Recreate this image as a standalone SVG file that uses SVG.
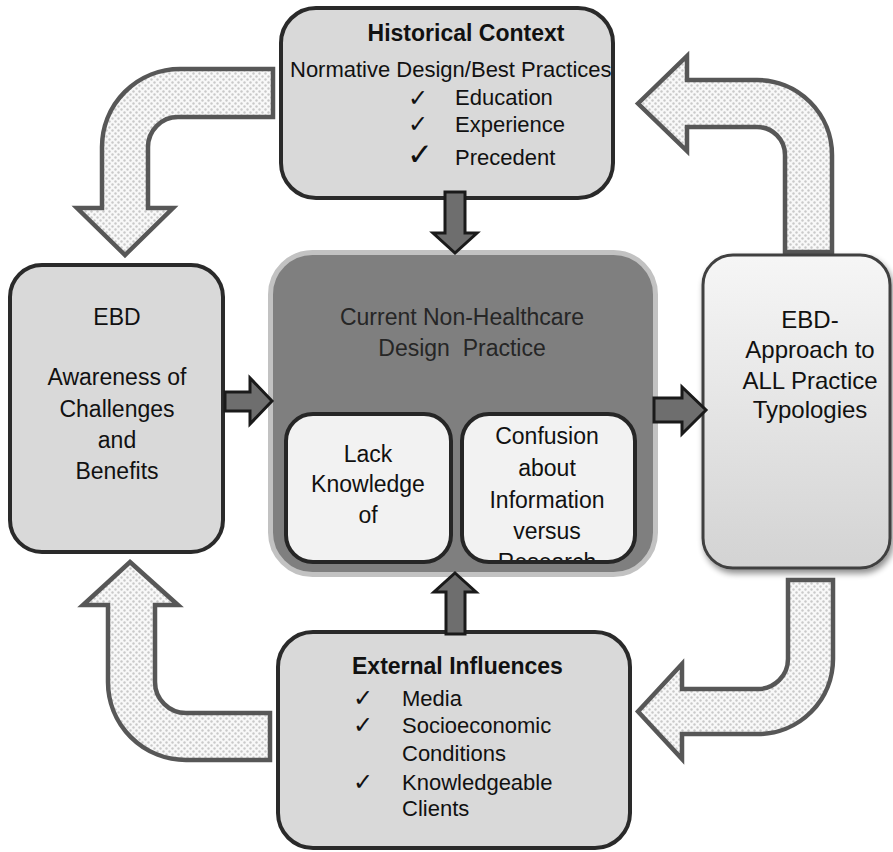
<svg xmlns="http://www.w3.org/2000/svg" width="893" height="852" viewBox="0 0 893 852">
<defs>
<pattern id="dots" width="6" height="6" patternUnits="userSpaceOnUse">
<rect width="6" height="6" fill="#f8f8f8"/>
<circle cx="1.5" cy="1.5" r="1.2" fill="#c9c9c9"/>
<circle cx="4.5" cy="4.5" r="1.2" fill="#c9c9c9"/>
</pattern>
<linearGradient id="rg" x1="0" y1="0" x2="0" y2="1">
<stop offset="0" stop-color="#f6f6f6"/>
<stop offset="1" stop-color="#d3d3d3"/>
</linearGradient>
<filter id="sh" x="-20%" y="-20%" width="140%" height="140%">
<feGaussianBlur in="SourceAlpha" stdDeviation="3"/>
<feOffset dx="2" dy="4" result="b"/>
<feComponentTransfer><feFuncA type="linear" slope="0.45"/></feComponentTransfer>
<feMerge><feMergeNode/><feMergeNode in="SourceGraphic"/></feMerge>
</filter>
<clipPath id="clipR"><rect x="464" y="416" width="169" height="144" rx="25"/></clipPath>
<style>
.t{font-family:"Liberation Sans",Arial,sans-serif;fill:#111;}
.b{font-weight:bold;}
.ck{font-family:"DejaVu Sans",sans-serif;fill:#111;}
.box{fill:#d9d9d9;stroke:#2a2a2a;stroke-width:4;}
.inner{fill:#f2f2f2;stroke:#262626;stroke-width:4;}
.curve{fill:url(#dots);stroke:#575757;stroke-width:4.5;stroke-linejoin:miter;}
.dark{fill:#6e6e6e;stroke:#1a1a1a;stroke-width:3;stroke-linejoin:miter;}
</style>
</defs>

<g id="connectors">
<path class="curve" d="M273,69 L180,69 A78,78 0 0 0 102,147 L102,208 L77,208 L125,255 L173,208 L148,208 L148,147 A30,30 0 0 1 178,117 L273,117 Z"/>
<path class="curve" d="M638,103.5 L687,56 L687,80 L757,80 A75,75 0 0 1 832,155 L832,252 L785,252 L785,155 A28,28 0 0 0 757,127 L687,127 L687,151 Z"/>
<path class="curve" d="M788,580 L833,580 L833,659 A75,75 0 0 1 758,734 L682,734 L682,759 L638,711.5 L682,664 L682,689 L758,689 A30,30 0 0 0 788,659 Z"/>
<path class="curve" d="M130,562 L178,605 L155,605 L155,682 A31,31 0 0 0 186,713 L270,713 L270,760 L186,760 A78,78 0 0 1 108,682 L108,605 L83,605 Z"/>
</g>

<g id="historical">
<rect class="box" x="281" y="8" width="332" height="190" rx="35"/>
<text class="t b" x="466" y="41" font-size="23" text-anchor="middle">Historical Context</text>
<text class="t" x="290" y="77" font-size="22">Normative Design/Best Practices</text>
<text class="ck" x="408" y="106" font-size="24">✓</text>
<text class="t" x="455" y="105" font-size="22">Education</text>
<text class="ck" x="408" y="132" font-size="24">✓</text>
<text class="t" x="455" y="132" font-size="22">Experience</text>
<text class="ck" x="407" y="165" font-size="31">✓</text>
<text class="t" x="455" y="165" font-size="22">Precedent</text>
</g>

<g id="ebd-awareness">
<rect class="box" x="10" y="265" width="213" height="287" rx="32"/>
<text class="t" x="117" y="325" font-size="23" text-anchor="middle">EBD</text>
<text class="t" x="117" y="385" font-size="23" text-anchor="middle">Awareness of</text>
<text class="t" x="117" y="417" font-size="23" text-anchor="middle">Challenges</text>
<text class="t" x="117" y="448" font-size="23" text-anchor="middle">and</text>
<text class="t" x="117" y="479" font-size="23" text-anchor="middle">Benefits</text>
</g>

<g id="current-practice">
<rect x="270.5" y="252.5" width="385" height="322" rx="42" fill="#7f7f7f" stroke="#c2c2c2" stroke-width="5"/>
<text x="462" y="325" font-size="23" text-anchor="middle" style="font-family:'Liberation Sans',Arial,sans-serif;fill:#262626">Current Non-Healthcare</text>
<text x="462" y="356" font-size="23" text-anchor="middle" style="font-family:'Liberation Sans',Arial,sans-serif;fill:#262626;white-space:pre" xml:space="preserve">Design  Practice</text>
</g>

<g id="lack-knowledge">
<rect class="inner" x="286" y="414" width="165" height="148" rx="27"/>
<text class="t" x="368" y="462" font-size="23" text-anchor="middle">Lack</text>
<text class="t" x="368" y="492" font-size="23" text-anchor="middle">Knowledge</text>
<text class="t" x="368" y="523" font-size="23" text-anchor="middle">of</text>
</g>

<g id="confusion">
<rect x="462" y="414" width="173" height="148" rx="27" fill="#f2f2f2"/>
<g clip-path="url(#clipR)">
<text class="t" x="547" y="444" font-size="23" text-anchor="middle">Confusion</text>
<text class="t" x="547" y="476" font-size="23" text-anchor="middle">about</text>
<text class="t" x="547" y="508" font-size="23" text-anchor="middle">Information</text>
<text class="t" x="547" y="539" font-size="23" text-anchor="middle">versus</text>
<text class="t" x="547" y="570" font-size="23" text-anchor="middle">Research</text>
</g>
<rect x="462" y="414" width="173" height="148" rx="27" fill="none" stroke="#262626" stroke-width="4"/>
</g>

<g id="ebd-approach">
<rect x="703" y="255" width="187" height="313" rx="30" fill="url(#rg)" stroke="#404040" stroke-width="3" filter="url(#sh)"/>
<text class="t" x="810" y="328" font-size="24" text-anchor="middle">EBD-</text>
<text class="t" x="810" y="358" font-size="24" text-anchor="middle">Approach to</text>
<text class="t" x="810" y="389" font-size="24" text-anchor="middle">ALL Practice</text>
<text class="t" x="810" y="418" font-size="24" text-anchor="middle">Typologies</text>
</g>

<g id="external">
<rect class="box" x="278" y="632" width="352" height="216" rx="35"/>
<text class="t b" x="352" y="674" font-size="23">External Influences</text>
<text class="ck" x="353" y="706" font-size="24">✓</text>
<text class="t" x="402" y="706" font-size="22">Media</text>
<text class="ck" x="353" y="733" font-size="24">✓</text>
<text class="t" x="402" y="733" font-size="22">Socioeconomic</text>
<text class="t" x="402" y="761" font-size="22">Conditions</text>
<text class="ck" x="353" y="790" font-size="24">✓</text>
<text class="t" x="402" y="790" font-size="22">Knowledgeable</text>
<text class="t" x="402" y="816" font-size="22">Clients</text>
</g>

<g id="flow-arrows">
<path class="dark" d="M445,192 L465,192 L465,233 L477,233 L455,253 L433,233 L445,233 Z"/>
<path class="dark" d="M455,573 L476,592 L465,592 L465,634 L446,634 L446,592 L434,592 Z"/>
<path class="dark" d="M225,392 L250,392 L250,378 L272,401 L250,424 L250,411 L225,411 Z"/>
<path class="dark" d="M654,398 L682,398 L682,387 L706,410 L682,434 L682,422 L654,422 Z"/>
</g>
</svg>
